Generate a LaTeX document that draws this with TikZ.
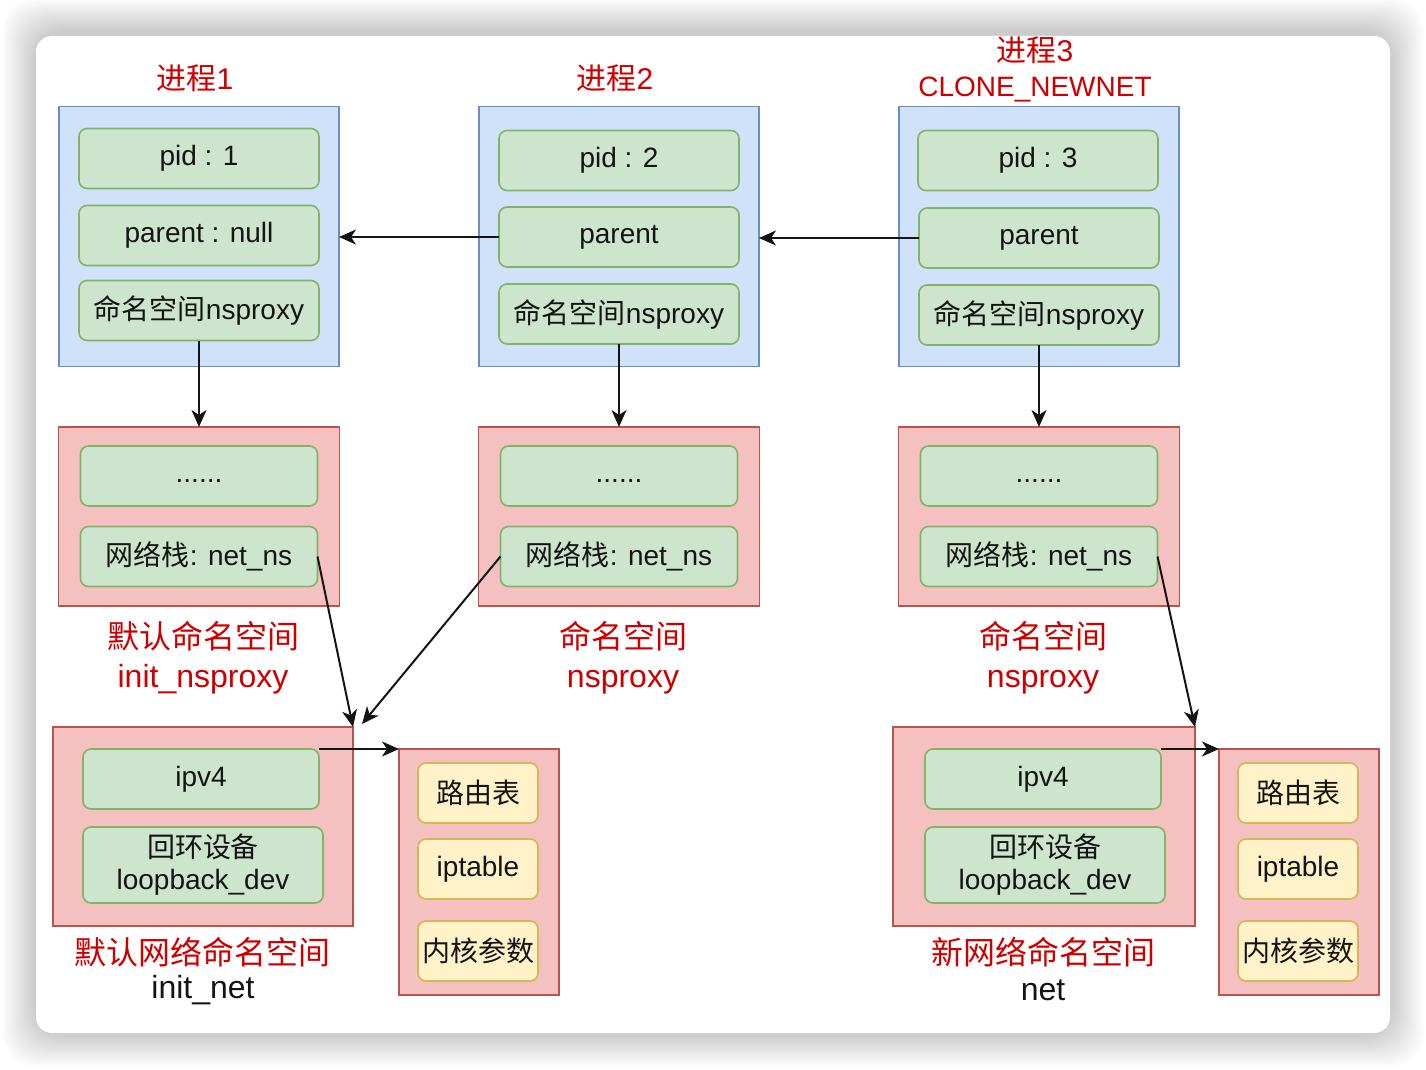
\documentclass[tikz,border=0pt]{standalone}
\usepackage{fontspec}
\setmainfont{Liberation Sans}
\newfontfamily\cjk{Noto Sans CJK SC}
\usepackage{tikz}
\usetikzlibrary{arrows.meta}
\definecolor{procblue}{RGB}{208,226,250}
\definecolor{procbluedraw}{RGB}{108,142,191}
\definecolor{nsred}{RGB}{244,192,192}
\definecolor{nsreddraw}{RGB}{184,84,80}
\definecolor{fieldgreen}{RGB}{205,228,205}
\definecolor{fieldgreendraw}{RGB}{130,179,102}
\definecolor{tblyellow}{RGB}{255,241,200}
\definecolor{tblyellowdraw}{RGB}{214,182,86}
\definecolor{labelred}{RGB}{204,0,0}
\definecolor{inkgray}{RGB}{20,20,20}
\tikzset{every picture/.style={line width=.8pt}}

\begin{document}
\begin{tikzpicture}[x=.5pt,y=-.5pt,
 every node/.style={font=\fontsize{14}{16}\selectfont,text=inkgray,inner sep=0pt,outer sep=0pt},
 procbox/.style={draw=procbluedraw,fill=procblue,minimum width=140pt,minimum height=130pt},
 nsbox/.style={draw=nsreddraw,fill=nsred},
 field/.style={draw=fieldgreendraw,fill=fieldgreen,rounded corners=4pt,minimum width=120pt,minimum height=30pt,align=center},
 tbl/.style={draw=tblyellowdraw,fill=tblyellow,rounded corners=4pt,minimum width=60pt,minimum height=30pt},
 caption/.style={text=labelred,font=\fontsize{16}{19.5}\selectfont,align=center},
 link/.style={-{Stealth[length=8.5pt,width=7.5pt,inset=2.5pt]},draw=inkgray,line width=1pt}]
 \fill[white] (0,0) rectangle (1426,1070);
 \useasboundingbox (0,0) rectangle (1426,1070);
 \foreach \s in {1,...,26}{
  \fill[black,opacity=.0075,rounded corners=16pt] (36-1.3*\s,36-1.3*\s-4) rectangle (1390+1.3*\s,1033+1.3*\s);
 }
 \fill[white,rounded corners=8pt] (36,36) rectangle (1390,1033);

 \node[caption,font=\fontsize{15}{18}\selectfont] (title1) at (195,78) {{\cjk 进程}1};
 \node[caption,font=\fontsize{15}{18}\selectfont] (title2) at (615,78) {{\cjk 进程}2};
 \node[caption,font=\fontsize{15}{18}\selectfont] (title3) at (1035,50) {{\cjk 进程}3};
 \node[caption,font=\fontsize{14}{17}\selectfont] (flag3) at (1035,90) {CLONE\_NEWNET};

 \node[procbox] (proc1) at (199,236.5) {};
 \node[field] (pid1) at (199,158.5) {pid : 1};
 \node[field] (par1) at (199,235.5) {parent : null};
 \node[field] (nsp1) at (199,310.5) {{\cjk 命名空间}nsproxy};

 \node[procbox] (proc2) at (619,236.5) {};
 \node[field] (pid2) at (619,160.5) {pid : 2};
 \node[field] (par2) at (619,237) {parent};
 \node[field] (nsp2) at (619,314) {{\cjk 命名空间}nsproxy};

 \node[procbox] (proc3) at (1039,236.5) {};
 \node[field] (pid3) at (1038,160.5) {pid : 3};
 \node[field] (par3) at (1039,238) {parent};
 \node[field] (nsp3) at (1039,315) {{\cjk 命名空间}nsproxy};

 \draw[link] (par2.west) -- (par2.west -| proc1.east);
 \draw[link] (par3.west) -- (par3.west -| proc2.east);

 \foreach \i/\x in {1/199,2/619,3/1039}{
  \node[nsbox,minimum width=140.5pt,minimum height=89.5pt] (ns\i) at (\x,516.5) {};
  \node[field,minimum width=118.5pt] (dots\i) at (\x,476) {\vphantom{Hg}......};
  \node[field,minimum width=118.5pt] (netns\i) at (\x,556.5) {{\cjk 网络栈}: net\_ns};
  \draw[link] (nsp\i.south) -- (ns\i.north);
 }

 \node[caption] (cap1) at (203,657.5) {{\cjk 默认命名空间}\\init\_nsproxy};
 \node[caption] (cap2) at (623,657.5) {{\cjk 命名空间}\\nsproxy};
 \node[caption] (cap3) at (1043,657.5) {{\cjk 命名空间}\\nsproxy};

 \node[nsbox,minimum width=150pt,minimum height=99.5pt] (net1) at (203,826.5) {};
 \node[field,minimum width=118pt] (ipv41) at (201,779) {ipv4};
 \node[field,minimum height=38pt] (lo1) at (203,865) {{\cjk 回环设备}\\loopback\_dev};
 \node[caption] (netcap1) at (203,952) {\cjk 默认网络命名空间};
 \node[font=\fontsize{16}{19.5}\selectfont] (netname1) at (203,990) {init\_net};

 \node[nsbox,minimum width=80pt,minimum height=123pt] (rt1) at (479,872) {};
 \node[tbl] (route1) at (478,793) {\cjk 路由表};
 \node[tbl] (ipt1) at (478,869) {iptable};
 \node[tbl] (kern1) at (478,951) {\cjk 内核参数};

 \node[nsbox,minimum width=151pt,minimum height=99.5pt] (net2) at (1044,826.5) {};
 \node[field,minimum width=118pt] (ipv42) at (1043,779) {ipv4};
 \node[field,minimum height=38pt] (lo2) at (1045,865) {{\cjk 回环设备}\\loopback\_dev};
 \node[caption] (netcap2) at (1043,952) {\cjk 新网络命名空间};
 \node[font=\fontsize{16}{19.5}\selectfont] (netname2) at (1043,990) {net};

 \node[nsbox,minimum width=80pt,minimum height=123pt] (rt2) at (1299,872) {};
 \node[tbl] (route2) at (1298,793) {\cjk 路由表};
 \node[tbl] (ipt2) at (1298,869) {iptable};
 \node[tbl] (kern2) at (1298,951) {\cjk 内核参数};

 \coordinate (net1in) at ([shift={(9,-3)}]net1.north east);
 \draw[link] (netns1.east) -- (net1.north east);
 \draw[link] (netns2.west) -- (net1in);
 \draw[link] (netns3.east) -- (net2.north east);
 \draw[link] (ipv41.north east) -- (rt1.north west);
 \draw[link] (ipv42.north east) -- (rt2.north west);
\end{tikzpicture}
\end{document}
